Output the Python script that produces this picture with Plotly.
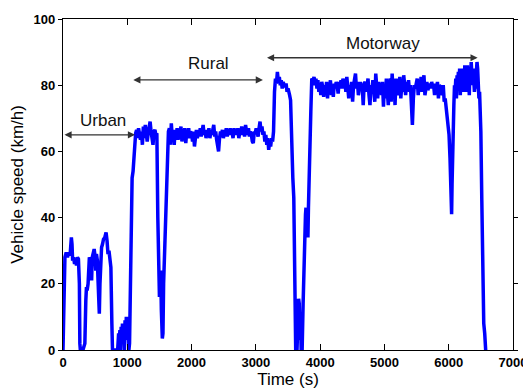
import plotly.graph_objects as go

# ---- data ----
time_s = [
    0, 15, 30, 50, 70, 90, 110, 130, 140, 150, 165, 180, 195, 210, 225, 240, 255, 262, 270, 290,
    310, 325, 340, 355, 365, 375, 390, 400, 410, 420, 435, 445, 455, 470, 485, 500, 510, 520, 535, 545,
    555, 565, 575, 585, 600, 615, 630, 650, 670, 685, 700, 715, 730, 745, 760, 770, 790, 820, 850, 865,
    875, 885, 895, 905, 915, 925, 935, 945, 955, 965, 975, 985, 995, 1005, 1015, 1025, 1035, 1045, 1060, 1075,
    1090, 1105, 1120,
    1130, 1145, 1160, 1175, 1190, 1205, 1220, 1235, 1250, 1265, 1280, 1295, 1310, 1325, 1340, 1355, 1370, 1385,
    1400, 1415, 1430, 1445, 1460, 1475, 1490, 1500, 1510, 1520, 1530, 1545, 1555, 1565, 1580, 1595, 1610, 1625,
    1640,
    1655, 1670, 1685, 1700, 1715, 1730, 1745, 1760, 1775, 1790, 1805, 1820, 1835, 1850, 1865, 1880, 1895, 1910,
    1925, 1940, 1955, 1970, 1985, 2000, 2015, 2030, 2045, 2060, 2075, 2090, 2105, 2120, 2135, 2150, 2165, 2180,
    2195, 2210, 2225, 2240, 2255, 2270, 2285, 2300, 2315, 2330, 2345, 2360, 2375, 2390, 2405, 2420, 2435, 2450,
    2465, 2480, 2495, 2510, 2525, 2540, 2555, 2570, 2585, 2600, 2615, 2630, 2645, 2660, 2675, 2690, 2705, 2720,
    2735, 2750, 2765, 2780, 2795, 2810, 2825, 2840, 2855, 2870, 2885, 2900, 2915, 2930, 2945, 2960, 2975, 2990,
    3005, 3020, 3035, 3050, 3065, 3080, 3095, 3110, 3125, 3140, 3155, 3170, 3185, 3200, 3215, 3230, 3245, 3260,
    3275,
    3290, 3305, 3320, 3335, 3350, 3365, 3380, 3395, 3410, 3425, 3440, 3455, 3470, 3485, 3500, 3515, 3525, 3540,
    3550, 3560, 3575, 3590, 3600, 3610, 3620, 3640, 3655, 3665, 3675, 3685, 3695, 3705, 3720, 3735, 3748, 3760,
    3772, 3780, 3790, 3800, 3810, 3818, 3828, 3840, 3855, 3870,
    3890, 3905, 3920, 3935, 3950, 3965, 3980, 3995, 4010, 4025, 4040, 4055, 4070, 4085, 4100, 4115, 4130, 4145,
    4160, 4175, 4190, 4205, 4220, 4235, 4250, 4265, 4280, 4295, 4310, 4325, 4340, 4355, 4370, 4385, 4400, 4415,
    4430, 4445, 4460, 4475, 4490, 4505, 4520, 4535, 4550, 4565, 4580, 4595, 4610, 4625, 4640, 4655, 4670, 4685,
    4700, 4715, 4730, 4745, 4760, 4775, 4790, 4805, 4820, 4835, 4850, 4865, 4880, 4895, 4910, 4925, 4940, 4955,
    4970, 4985, 5000, 5015, 5030, 5045, 5060, 5075, 5090, 5105, 5120, 5135, 5150, 5165, 5180, 5195, 5210, 5225,
    5240, 5255, 5270, 5285, 5300, 5315, 5330, 5345, 5360, 5375, 5390, 5405, 5420, 5435, 5450, 5465, 5480, 5495,
    5510, 5525, 5540, 5555, 5570, 5585, 5600, 5615, 5630, 5645, 5660, 5675, 5690, 5705, 5720, 5735, 5750, 5765,
    5780, 5795, 5810, 5825, 5840, 5855, 5870, 5885, 5900, 5915, 5930, 5945, 5960, 5975, 5990, 6005, 6020, 6035,
    6045, 6052, 6060, 6070, 6080, 6090, 6100, 6110, 6120, 6130, 6140, 6150, 6160, 6170, 6180, 6190, 6200, 6210,
    6220, 6230, 6240, 6250, 6260, 6270, 6280, 6290, 6300, 6310, 6320, 6330, 6340, 6350, 6360, 6370, 6380, 6390,
    6400, 6410, 6420, 6430, 6440, 6450, 6460, 6470, 6480, 6490, 6500, 6515, 6530, 6545, 6560, 6575, 6590,
]

speed_kmh = [
    0, 18, 28, 29.5, 28, 29.5, 28.5, 34, 32, 27, 28, 26, 27.5, 25.5, 28, 27.5, 20, 2, 0, 0,
    0, 1, 2, 15, 19, 18, 20, 26, 28, 27.5, 22, 21, 28, 30, 30.5, 28, 24, 29, 27, 21,
    12, 11, 20, 28, 31, 32, 33.5, 34, 35.5, 33, 29, 30, 27, 25, 8, 0, 0, 0, 0, 5,
    2, 6, 0, 7, 3, 8, 2, 7, 0, 9, 4, 10, 3, 10, 6, 0, 2, 20, 45, 52,
    54, 60, 64.5,
    65.5, 66.5, 64, 67, 65, 63.5, 66, 62, 67.5, 64, 68, 66, 63, 65.5, 67, 69, 66, 64,
    62, 66, 66.5, 65, 65.5, 40, 25, 16, 20, 24, 12, 3.5, 5, 20, 30, 45, 55, 62,
    66,
    67, 62, 68.5, 64, 66, 62, 66.5, 64, 67, 63.5, 66, 65, 67.5, 63, 66, 64.5, 67, 62.5,
    66, 65, 67, 64, 66, 65.5, 63, 66, 61.5, 65, 66.5, 64, 66, 65, 67, 64.5, 66, 68,
    65, 66.5, 64, 66, 65.5, 67, 64, 66, 65, 67.5, 68, 64.5, 66, 63.5, 62, 60, 64, 66,
    65, 66.5, 64, 66, 65.5, 67, 64.5, 66, 65, 67, 65.5, 66, 64, 67, 65.5, 66.5, 65, 67,
    64, 66, 65, 67.5, 65, 66, 64.5, 68, 66, 65, 67, 64.5, 66, 65, 63, 62.5, 66, 65.5,
    67, 66, 64.5, 67, 69, 66, 67.5, 65, 66, 63, 65, 62, 64, 60.5, 63, 61.5, 64, 63,
    66,
    78, 82, 80.5, 84, 81, 82.5, 80, 81.5, 79, 81, 80, 79.5, 80.5, 78, 79, 77, 77, 75.5,
    68, 58, 52, 46, 30, 12, 0, 0, 8, 15.5, 14, 3, 10, 0, 0, 14, 28, 36,
    41, 43, 35, 42, 34, 43, 55, 63, 72, 82,
    81.5, 82.5, 80, 82, 79, 81.5, 78, 80.5, 77, 81, 79.5, 76.5, 80, 78, 81, 76, 80.5, 79,
    81.5, 77, 80, 76.5, 80.5, 79, 81, 80, 77.5, 81, 80, 81.5, 79, 82, 80.5, 81, 78, 82.5,
    79.5, 76, 80, 78.5, 81, 75, 80, 82, 83.5, 79, 81, 77, 80.5, 81, 79, 80, 74, 80.5,
    81, 78, 80, 82, 77, 74, 80, 78, 81.5, 79, 75, 83.5, 80, 76, 81, 79, 80, 77,
    81, 73.5, 80, 76, 82, 78, 74, 80.5, 82, 75, 83.5, 78, 81, 74, 82, 79, 77, 80,
    82.5, 76, 80, 78, 83, 80, 77, 81, 79, 81.5, 78, 80, 75, 68, 76, 80, 79, 81,
    82, 77, 80.5, 79, 82.5, 78, 80, 83, 77, 80, 81, 78.5, 80, 80.5, 79, 81, 79.5, 80,
    77, 80.5, 79, 81, 76, 80, 79.5, 78, 77, 80, 75, 76, 73, 70, 68, 65, 58, 48,
    41, 50, 63, 72, 74, 80, 78, 82, 76, 83, 80, 84, 79, 85, 77, 84, 82, 85,
    78, 84, 80, 86, 82, 78, 83, 86, 81, 84, 77, 85, 83, 87, 82, 80, 85, 79,
    78, 80, 79, 84, 87, 85, 80, 76, 78, 72, 66, 45, 25, 8, 5, 0, 0,
]

phase_labels = ["Urban", "Rural", "Motorway"]
phase_start = [0, 1070, 3150]
phase_end = [1120, 3110, 6450]
phase_arrow_v = [65, 81.6, 88.3]
phase_label_t = [619, 2263, 4980]
phase_label_v = [69.2, 86.6, 92.6]

x_ticks = [0, 1000, 2000, 3000, 4000, 5000, 6000, 7000]
y_ticks = [0, 20, 40, 60, 80, 100]

FONT = "Arial, Liberation Sans, sans-serif"

fig = go.Figure()
fig.add_trace(go.Scatter(
    x=time_s, y=speed_kmh, mode="lines",
    line=dict(color="#0000FF", width=3.5),
    showlegend=False, hoverinfo="skip",
))

annotations = []
for lab, s, e, av, lt, lv in zip(phase_labels, phase_start, phase_end,
                                 phase_arrow_v, phase_label_t, phase_label_v):
    annotations.append(dict(
        x=e, y=av, ax=s, ay=av, xref="x", yref="y", axref="x", ayref="y",
        text="", showarrow=True, arrowhead=2, arrowside="end+start",
        arrowsize=1.1, arrowwidth=1.3, arrowcolor="#333333",
        standoff=0, startstandoff=0,
    ))
    annotations.append(dict(
        x=lt, y=lv, xref="x", yref="y", text=lab, showarrow=False,
        font=dict(family=FONT, size=17, color="#111111"),
    ))

# page has an 8px body margin, so the figure is sized/offset to compensate
fig.update_layout(
    width=523, height=383,
    margin=dict(l=55, r=18, t=11, b=41, autoexpand=False),
    plot_bgcolor="white", paper_bgcolor="white",
    annotations=annotations,
    font=dict(family=FONT, color="black"),
)
fig.update_xaxes(
    range=[0, 7000], tickvals=x_ticks, ticktext=["<b>%d</b>" % v for v in x_ticks],
    showgrid=False, zeroline=False, automargin=False,
    showline=True, linecolor="black", linewidth=1.2, mirror="ticks",
    ticks="inside", ticklen=6, tickcolor="black",
    tickfont=dict(family=FONT, size=13, color="black"),
    title=dict(text="Time (s)", font=dict(family=FONT, size=17), standoff=2),
)
fig.update_yaxes(
    range=[0, 100], tickvals=y_ticks, ticktext=["<b>%d</b>" % v for v in y_ticks],
    showgrid=False, zeroline=False, automargin=False,
    showline=True, linecolor="black", linewidth=1.2, mirror="ticks",
    ticks="outside", ticklen=4, tickcolor="black",
    tickfont=dict(family=FONT, size=13, color="black"),
    title=dict(text="Vehicle speed (km/h)", font=dict(family=FONT, size=17), standoff=8),
)

fig.write_html("out.html")
